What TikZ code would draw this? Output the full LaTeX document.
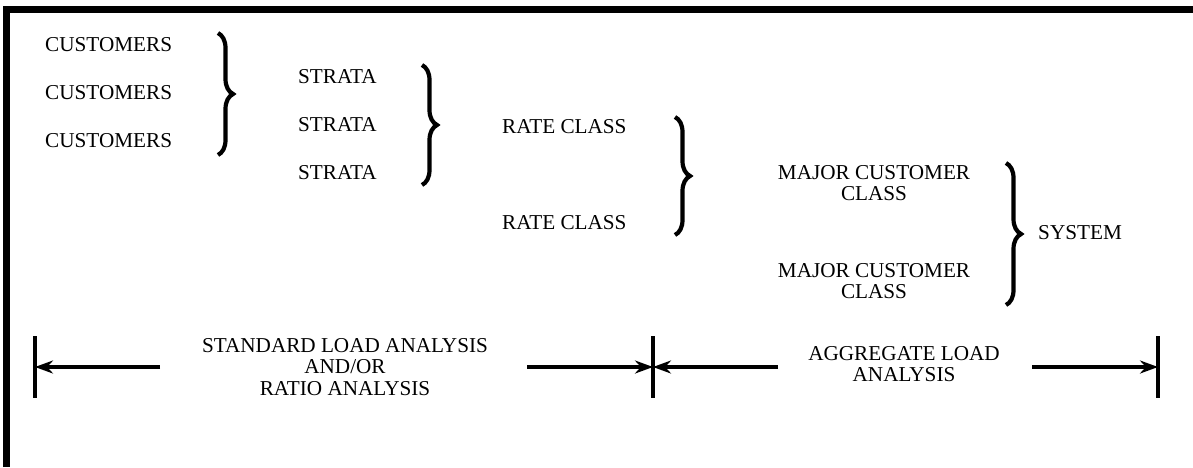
\documentclass[tikz,border=0pt]{standalone}
\usepackage{fontspec}
\setmainfont{Liberation Serif}
\usetikzlibrary{arrows.meta,decorations.pathreplacing}
\tikzset{
	lbl/.style={font=\fontsize{21.2}{21.5}\selectfont,inner sep=0pt,align=center},
	brc/.style={decorate,decoration={brace,amplitude=15pt},line width=4.2pt},
	bar/.style={line width=3.7pt},
	dim/.style={line width=3.7pt,->}
}
\begin{document}
\begin{tikzpicture}[>={Stealth[length=18pt,width=13pt]},x=1pt,y=-1pt]
	\useasboundingbox (0,0) rectangle (1193,467);
	% khung
	\draw[line width=6.5pt] (6.7,467) |- (1193,9.3);
	% cac cap
	\node[lbl,anchor=west] (cu1) at (45,45) {CUSTOMERS};
	\node[lbl,anchor=west] (cu2) at (45,93) {CUSTOMERS};
	\node[lbl,anchor=west] (cu3) at (45,141) {CUSTOMERS};
	\draw[brc] (218,33) -- (218,155);
	\node[lbl,anchor=west] (st1) at (298,77) {STRATA};
	\node[lbl,anchor=west] (st2) at (298,125) {STRATA};
	\node[lbl,anchor=west] (st3) at (298,173) {STRATA};
	\draw[brc] (422,65) -- (422,185);
	\node[lbl,anchor=west] (rc1) at (502,127) {RATE CLASS};
	\node[lbl,anchor=west] (rc2) at (502,223) {RATE CLASS};
	\draw[brc] (675,117) -- (675,235);
	\node[lbl] (mc1) at (874,183) {MAJOR CUSTOMER\\CLASS};
	\node[lbl] (mc2) at (874,281) {MAJOR CUSTOMER\\CLASS};
	\draw[brc] (1006,163) -- (1006,305);
	\node[lbl,anchor=west] (sys) at (1038,233) {SYSTEM};
	% phan tich
	\foreach \x/\n in {35/b1,653/b2,1158/b3}{
		\draw[bar] (\x,336) -- (\x,398);
		\coordinate (\n) at (\x,367);
	}
	\node[lbl] (sla) at (345,367) {STANDARD LOAD ANALYSIS\\AND/OR\\RATIO ANALYSIS};
	\node[lbl] (agg) at (904,364) {AGGREGATE LOAD\\ANALYSIS};
	\coordinate (t1) at (160,367);
	\coordinate (t2) at (527,367);
	\coordinate (t3) at (778,367);
	\coordinate (t4) at (1032,367);
	\draw[dim] (t1) -- (b1);
	\draw[dim] (t2) -- (b2);
	\draw[dim] (t3) -- (b2);
	\draw[dim] (t4) -- (b3);
\end{tikzpicture}
\end{document}
